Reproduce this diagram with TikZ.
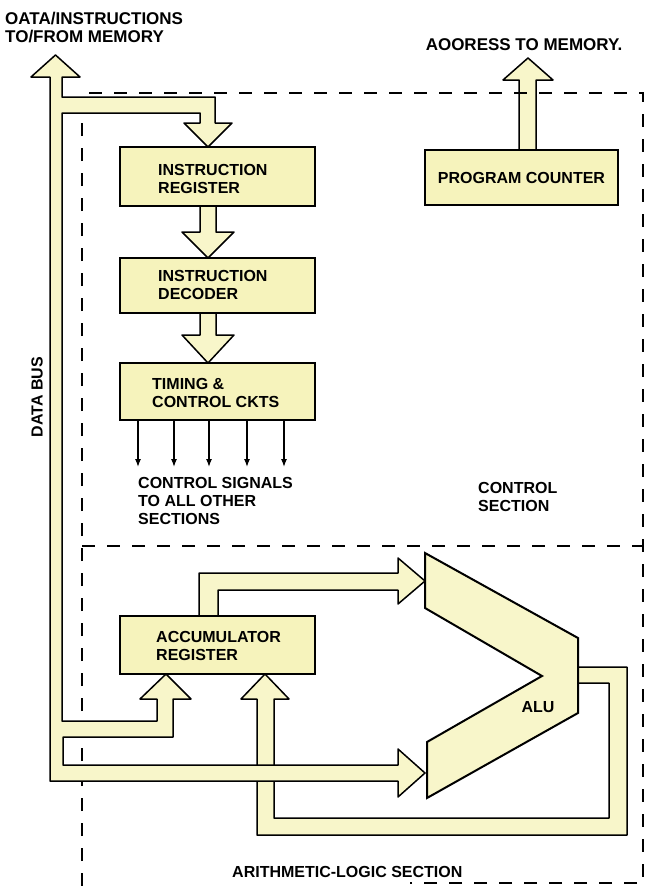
\documentclass[tikz,border=0pt]{standalone}
\usepackage{fontspec}
\setmainfont{Liberation Sans}
\usetikzlibrary{arrows.meta}
\definecolor{busfill}{RGB}{248,246,202}
\definecolor{boxfill}{RGB}{246,243,188}
\tikzset{
  bus/.style={fill=busfill, draw=black, line width=1.5pt, line join=round},
  blk/.style={draw=black, fill=boxfill, line width=2.2pt, rectangle, inner sep=0pt},
  lbl/.style={font=\bfseries\fontsize{16}{18}\selectfont, align=left, inner sep=0pt, text=black},
  toplbl/.style={font=\bfseries\fontsize{17}{18}\selectfont, align=left, inner sep=0pt, text=black},
  sec/.style={line width=1.8pt, dash pattern=on 13pt off 12pt},
  sig/.style={line width=1.2pt, -{Latex[length=8pt,width=6pt]}},
}
\begin{document}
\begin{tikzpicture}[x=1pt,y=-1pt]
\useasboundingbox (0,0) rectangle (651,886);

% feedback bus ALU -> accumulator
\draw[bus] (578,667) -- (627,667) -- (627,835) -- (257,835) -- (257,699) -- (241,699)
  -- (265,674) -- (289,699) -- (274,699) -- (274,818) -- (609,818) -- (609,683) -- (578,683) -- cycle;
% accumulator -> ALU upper input
\draw[bus] (199,616) -- (199,573) -- (398,573) -- (398,558) -- (425,581) -- (398,604)
  -- (398,590) -- (218,590) -- (218,616) -- cycle;
% ALU
\draw[bus, line width=2pt, line join=miter] (425,553) -- (578,638) -- (578,713) -- (427,798) -- (427,742)
  -- (542,676) -- (425,608) -- cycle;
\node[lbl] (alu) at (538,707) {ALU};

% IR -> ID, ID -> TC
\draw[bus] (200,206) -- (200,232) -- (182,232) -- (208,258) -- (234,232) -- (216,232) -- (216,206) -- cycle;
\draw[bus] (200,313) -- (200,335) -- (182,335) -- (208,363) -- (234,335) -- (216,335) -- (216,313) -- cycle;
% PC -> memory
\draw[bus] (519,150) -- (519,80) -- (503,80) -- (528,58) -- (553,80) -- (536,80) -- (536,150) -- cycle;

% section boundaries
\draw[sec] (82,886) -- (82,93) -- (643,93) -- (643,883) -- (410,883);
\draw[sec] (82,546) -- (643,546);

% data bus
\draw[bus] (55.5,55) -- (80,77) -- (62,77) -- (62,97) -- (215,97) -- (215,123) -- (232,123)
  -- (208,147) -- (184,123) -- (200,123) -- (200,113) -- (62,113) -- (62,721) -- (157,721)
  -- (157,699) -- (140,699) -- (166,674) -- (191,699) -- (173,699) -- (173,737) -- (63,737)
  -- (63,765) -- (398,765) -- (398,749) -- (425,773) -- (398,797) -- (398,781) -- (50,781)
  -- (50,77) -- (31,77) -- cycle;

% blocks
\node[blk, minimum width=195pt, minimum height=59pt] (ir) at (217.5,176.5) {};
\node[blk, minimum width=195pt, minimum height=55pt] (id) at (217.5,285.5) {};
\node[blk, minimum width=195pt, minimum height=57pt] (tc) at (217.5,391.5) {};
\node[blk, minimum width=195pt, minimum height=58pt] (acc) at (217.5,645) {};
\node[blk, minimum width=193pt, minimum height=55pt] (pc) at (521.5,177.5) {};

\node[lbl, anchor=west] (irt) at (158,178.5) {INSTRUCTION\\REGISTER};
\node[lbl, anchor=west] (idt) at (158,284.5) {INSTRUCTION\\DECODER};
\node[lbl, anchor=west] (tct) at (152,392.5) {TIMING \&\\CONTROL CKTS};
\node[lbl, anchor=west] (acct) at (156,646) {ACCUMULATOR\\REGISTER};
\node[lbl] (pct) at (521.5,177.5) {PROGRAM COUNTER};

% control signals
\coordinate (s1) at (138,467);
\coordinate (s2) at (174,467);
\coordinate (s3) at (209,467);
\coordinate (s4) at (247,467);
\coordinate (s5) at (284,467);
\foreach \s in {s1,s2,s3,s4,s5} \draw[sig] (tc.south -| \s) -- (\s);

% labels
\node[toplbl, anchor=west] (mem) at (5,28) {OATA/INSTRUCTIONS\\TO/FROM MEMORY};
\node[toplbl] (addr) at (524,45) {AOORESS TO MEMORY.};
\node[lbl, rotate=90] (dbus) at (37,397) {DATA BUS};
\node[lbl, anchor=west] (cs) at (138,501) {CONTROL SIGNALS\\TO ALL OTHER\\SECTIONS};
\node[lbl, anchor=west] (ctl) at (478,497) {CONTROL\\SECTION};
\node[lbl, anchor=west] (als) at (232,872) {ARITHMETIC-LOGIC SECTION};
\end{tikzpicture}
\end{document}
